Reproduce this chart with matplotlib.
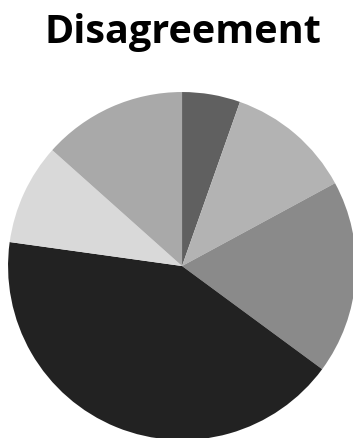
import matplotlib.pyplot as plt

# slice shares (clockwise from 12 o'clock)
values = [5.4, 11.7, 18.0, 42.1, 9.4, 13.4]
colors = ['#606060', '#b3b3b3', '#8a8a8a', '#222222', '#d9d9d9', '#a9a9a9']
title = 'Disagreement'

fig = plt.figure(figsize=(3.53, 4.38), dpi=100)
ax = fig.add_axes([0.0227, -0.0046, 0.986, 0.7945])
ax.pie(values, colors=colors, startangle=90, counterclock=False,
       wedgeprops=dict(linewidth=0))
ax.set_xlim(-1, 1)
ax.set_ylim(-1, 1)
ax.set_aspect('equal')
ax.axis('off')

fig.text(0.517, 0.9018, title, ha='center', va='baseline',
         fontsize=28.5, fontweight='bold', family='Open Sans')

fig.savefig('out.png', dpi=100)
